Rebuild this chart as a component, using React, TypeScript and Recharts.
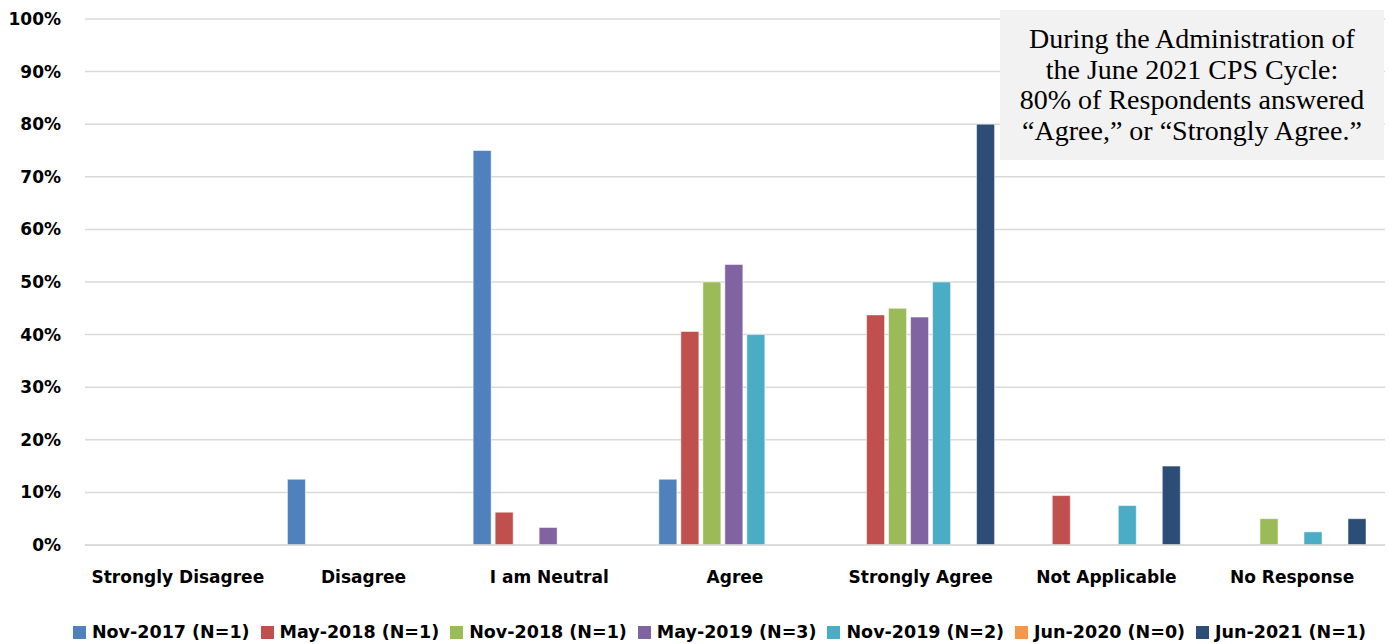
import { BarChart, Bar, XAxis, YAxis, CartesianGrid } from "recharts";

const categories = [
  "Strongly Disagree",
  "Disagree",
  "I am Neutral",
  "Agree",
  "Strongly Agree",
  "Not Applicable",
  "No Response",
];

const seriesNames = [
  "Nov-2017 (N=1)",
  "May-2018 (N=1)",
  "Nov-2018 (N=1)",
  "May-2019 (N=3)",
  "Nov-2019 (N=2)",
  "Jun-2020 (N=0)",
  "Jun-2021 (N=1)",
];

const colors = ["#4f81bd", "#c0504d", "#9bbb59", "#8064a2", "#4bacc6", "#f79646", "#2c4d75"];

// one list per survey cycle, in category order (percent)
const nov2017 = [0, 12.5, 75, 12.5, 0, 0, 0];
const may2018 = [0, 0, 6.25, 40.6, 43.75, 9.4, 0];
const nov2018 = [0, 0, 0, 50, 45, 0, 5];
const may2019 = [0, 0, 3.33, 53.33, 43.33, 0, 0];
const nov2019 = [0, 0, 0, 40, 50, 7.5, 2.5];
const jun2020 = [0, 0, 0, 0, 0, 0, 0];
const jun2021 = [0, 0, 0, 0, 80, 15, 5];

const yTicks = [0, 10, 20, 30, 40, 50, 60, 70, 80, 90, 100];

const seriesValues = [nov2017, may2018, nov2018, may2019, nov2019, jun2020, jun2021];

const data = categories.map((name, i) => {
  const row: Record<string, string | number> = { name };
  seriesNames.forEach((s, j) => {
    row[s] = seriesValues[j][i];
  });
  return row;
});

const font = "'DejaVu Sans', sans-serif";

export default function App() {
  return (
    <div style={{ position: "absolute", left: 0, top: 0, width: 1389, height: 644, background: "#fff" }}>
      <BarChart
        width={1389}
        height={644}
        data={data}
        margin={{ top: 19, right: 4, bottom: 0, left: 0 }}
        barCategoryGap="9%"
        barGap={4}
      >
        <CartesianGrid vertical={false} stroke="#d9d9d9" strokeWidth={1.5} />
        <XAxis
          dataKey="name"
          height={99}
          axisLine={{ stroke: "#d9d9d9", strokeWidth: 1.5 }}
          tickLine={false}
          tick={{ fill: "#000", fontSize: 17, fontWeight: 700, fontFamily: font }}
          tickMargin={20}
          interval={0}
        />
        <YAxis
          width={85}
          domain={[0, 100]}
          ticks={yTicks}
          axisLine={false}
          tickLine={false}
          tickFormatter={(v: number) => `${v}%`}
          tick={{ fill: "#000", fontSize: 17, fontWeight: 700, fontFamily: font }}
          tickMargin={18}
        />
        {seriesNames.map((s, j) => (
          <Bar
            key={s}
            dataKey={s}
            fill={colors[j]}
            stroke="#ffffff"
            strokeOpacity={0.5}
            strokeWidth={1}
            isAnimationActive={false}
          />
        ))}
      </BarChart>
      <div
        style={{
          position: "absolute",
          left: 0,
          top: 620,
          width: 1389,
          height: 24,
          display: "flex",
          justifyContent: "center",
          alignItems: "center",
          gap: 11,
          paddingLeft: 50,
          boxSizing: "border-box",
          fontFamily: font,
          fontSize: 17.5,
          fontWeight: 700,
          color: "#000",
          whiteSpace: "nowrap",
        }}
      >
        {seriesNames.map((s, j) => (
          <span key={s} style={{ display: "flex", alignItems: "center" }}>
            <span style={{ width: 13, height: 13, background: colors[j], marginRight: 6, display: "inline-block" }} />
            {s}
          </span>
        ))}
      </div>
      <div
        style={{
          position: "absolute",
          left: 1000,
          top: 10,
          width: 384,
          height: 150,
          background: "#f2f2f2",
          fontFamily: "'Liberation Serif', 'Times New Roman', serif",
          fontSize: 28,
          lineHeight: "30.5px",
          textAlign: "center",
          display: "flex",
          alignItems: "center",
          justifyContent: "center",
          color: "#000",
          whiteSpace: "nowrap",
        }}
      >
        <div>
          During the Administration of
          <br />
          the June 2021 CPS Cycle:
          <br />
          80% of Respondents answered
          <br />
          “Agree,” or “Strongly Agree.”
        </div>
      </div>
    </div>
  );
}
